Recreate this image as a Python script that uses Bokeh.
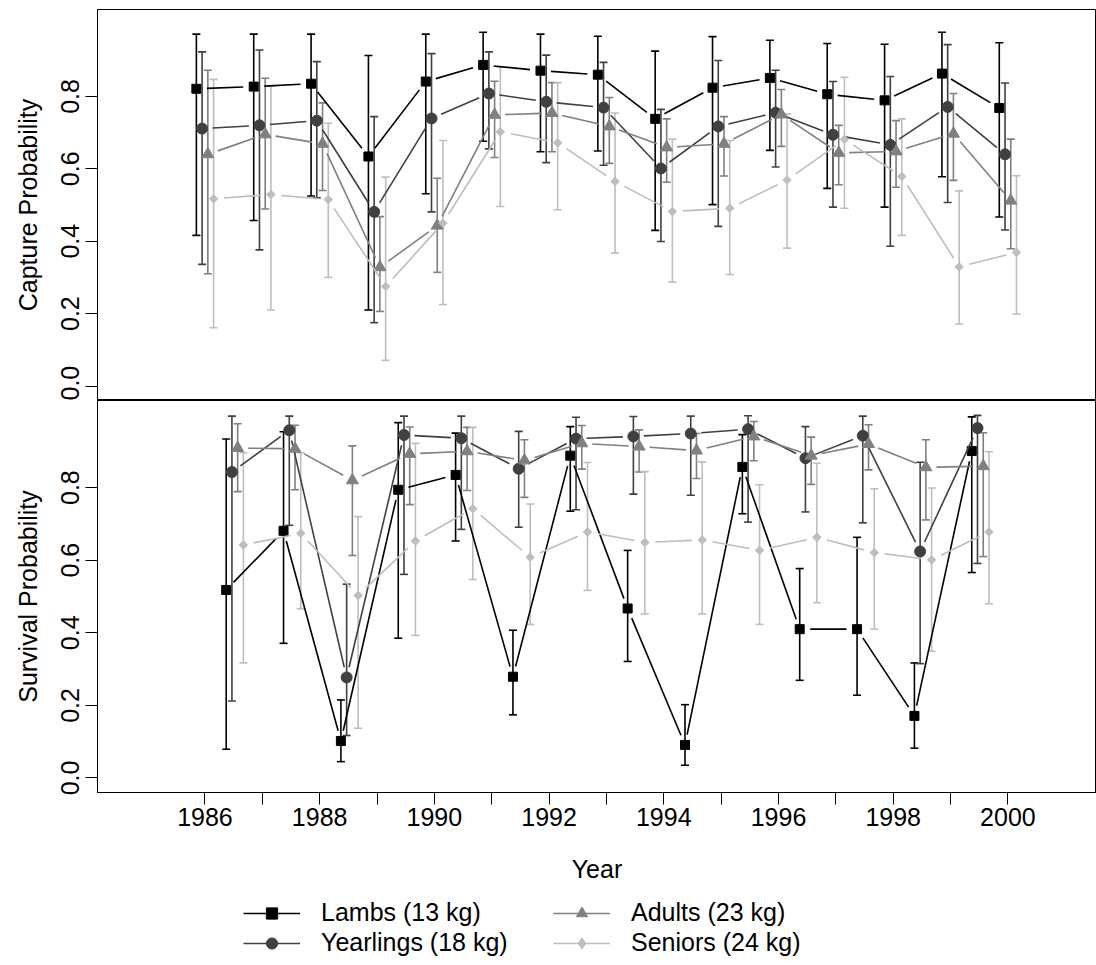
import math
from bokeh.plotting import figure
from bokeh.models import (Range1d, FixedTicker, PrintfTickFormatter, ColumnDataSource,
                          Whisker, TeeHead, Legend, LegendItem)
from bokeh.layouts import column
from bokeh.embed import file_html
from bokeh.resources import INLINE

# ---------------- data ----------------
years_cap = list(range(1986, 2001))
years_surv = list(range(1986, 2000))
series_names = ["Lambs (13 kg)", "Yearlings (18 kg)", "Adults (23 kg)", "Seniors (24 kg)"]

cap_lambs    = [0.821, 0.827, 0.835, 0.634, 0.841, 0.887, 0.871, 0.860, 0.738, 0.824, 0.851, 0.806, 0.789, 0.863, 0.768]
cap_lambs_lo = [0.416, 0.457, 0.525, 0.210, 0.531, 0.676, 0.647, 0.649, 0.430, 0.501, 0.651, 0.546, 0.494, 0.578, 0.467]
cap_lambs_hi = [0.972, 0.972, 0.972, 0.913, 0.972, 0.977, 0.972, 0.966, 0.925, 0.965, 0.955, 0.946, 0.944, 0.977, 0.948]

cap_year    = [0.711, 0.720, 0.733, 0.481, 0.739, 0.808, 0.785, 0.769, 0.601, 0.717, 0.755, 0.694, 0.666, 0.771, 0.640]
cap_year_lo = [0.336, 0.376, 0.520, 0.175, 0.481, 0.655, 0.617, 0.610, 0.399, 0.441, 0.605, 0.494, 0.386, 0.507, 0.431]
cap_year_hi = [0.923, 0.928, 0.896, 0.744, 0.918, 0.923, 0.914, 0.894, 0.764, 0.899, 0.872, 0.841, 0.855, 0.943, 0.837]

cap_adult    = [0.640, 0.695, 0.669, 0.328, 0.443, 0.749, 0.754, 0.717, 0.659, 0.669, 0.750, 0.644, 0.648, 0.697, 0.512]
cap_adult_lo = [0.310, 0.489, 0.540, 0.206, 0.314, 0.631, 0.647, 0.615, 0.563, 0.580, 0.662, 0.556, 0.549, 0.568, 0.379]
cap_adult_hi = [0.872, 0.850, 0.782, 0.468, 0.574, 0.842, 0.838, 0.797, 0.738, 0.744, 0.819, 0.720, 0.733, 0.808, 0.682]

cap_senior    = [0.517, 0.529, 0.515, 0.275, 0.450, 0.702, 0.672, 0.565, 0.482, 0.491, 0.569, 0.681, 0.579, 0.329, 0.369]
cap_senior_lo = [0.161, 0.210, 0.300, 0.071, 0.225, 0.496, 0.487, 0.367, 0.287, 0.308, 0.381, 0.491, 0.416, 0.171, 0.199]
cap_senior_hi = [0.847, 0.828, 0.726, 0.577, 0.678, 0.881, 0.838, 0.754, 0.682, 0.678, 0.752, 0.853, 0.738, 0.539, 0.581]

surv_lambs    = [0.518, 0.681, 0.102, 0.794, 0.835, 0.279, 0.888, 0.467, 0.091, 0.857, 0.410, 0.410, 0.171, 0.901]
surv_lambs_lo = [0.079, 0.371, 0.045, 0.385, 0.653, 0.174, 0.735, 0.321, 0.035, 0.728, 0.269, 0.228, 0.082, 0.566]
surv_lambs_hi = [0.934, 0.954, 0.215, 0.979, 0.950, 0.407, 0.968, 0.627, 0.202, 0.946, 0.577, 0.663, 0.317, 0.995]

surv_year    = [0.843, 0.958, 0.277, 0.945, 0.936, 0.852, 0.935, 0.941, 0.949, 0.961, 0.881, 0.943, 0.624, 0.964]
surv_year_lo = [0.212, 0.696, 0.117, 0.561, 0.685, 0.691, 0.739, 0.782, 0.779, 0.705, 0.733, 0.703, 0.315, 0.591]
surv_year_hi = [0.997, 0.997, 0.534, 0.997, 0.997, 0.955, 0.994, 0.996, 0.997, 0.998, 0.968, 0.997, 0.870, 0.999]

surv_adult    = [0.909, 0.907, 0.820, 0.893, 0.900, 0.875, 0.922, 0.913, 0.902, 0.941, 0.888, 0.920, 0.856, 0.859]
surv_adult_lo = [0.789, 0.794, 0.613, 0.753, 0.792, 0.773, 0.851, 0.843, 0.825, 0.874, 0.809, 0.849, 0.711, 0.610]
surv_adult_hi = [0.976, 0.972, 0.915, 0.967, 0.966, 0.932, 0.971, 0.959, 0.949, 0.982, 0.939, 0.973, 0.932, 0.951]

surv_senior    = [0.642, 0.674, 0.503, 0.653, 0.742, 0.608, 0.678, 0.649, 0.656, 0.627, 0.663, 0.621, 0.601, 0.678]
surv_senior_lo = [0.317, 0.466, 0.137, 0.393, 0.547, 0.423, 0.517, 0.452, 0.452, 0.423, 0.483, 0.410, 0.349, 0.480]
surv_senior_hi = [0.896, 0.896, 0.720, 0.922, 0.966, 0.755, 0.869, 0.844, 0.871, 0.808, 0.867, 0.797, 0.799, 0.899]

x_ticks = list(range(1986, 2001))
y_ticks = [0.0, 0.2, 0.4, 0.6, 0.8]

# ---------------- style / layout ----------------
FONT = "Liberation Sans"
FS = "25px"
FRAME_W = 999
FRAME_H_TOP = 391
FRAME_H_BOT = 392
X0, X1 = 1984.126, 2001.545
Y0, Y1 = -0.04, 1.04
cap_offsets = [-0.15, -0.05, 0.05, 0.15]
surv_offsets = [0.37, 0.47, 0.57, 0.67]
colors = ["#000000", "#404040", "#808080", "#bebebe"]
markers = ["square", "circle", "triangle", "square"]
msizes = [9, 11, 12, 6]
mangles = [0, 0, 0, math.pi / 4]
leg_markers = ["square", "circle", "triangle", "diamond"]
leg_sizes = [9, 11, 12, 10]
GAP = 10.5
LW = 1.6

cap_data = [(cap_lambs, cap_lambs_lo, cap_lambs_hi), (cap_year, cap_year_lo, cap_year_hi),
            (cap_adult, cap_adult_lo, cap_adult_hi), (cap_senior, cap_senior_lo, cap_senior_hi)]
surv_data = [(surv_lambs, surv_lambs_lo, surv_lambs_hi), (surv_year, surv_year_lo, surv_year_hi),
             (surv_adult, surv_adult_lo, surv_adult_hi), (surv_senior, surv_senior_lo, surv_senior_hi)]


def gapped(xs, ys, frame_h):
    px = FRAME_W / (X1 - X0)
    py = frame_h / (Y1 - Y0)
    out = dict(x0=[], y0=[], x1=[], y1=[])
    for i in range(len(xs) - 1):
        dx = (xs[i + 1] - xs[i]) * px
        dy = (ys[i + 1] - ys[i]) * py
        L = math.hypot(dx, dy)
        if L <= 2 * GAP:
            continue
        f = GAP / L
        out["x0"].append(xs[i] + (xs[i + 1] - xs[i]) * f)
        out["y0"].append(ys[i] + (ys[i + 1] - ys[i]) * f)
        out["x1"].append(xs[i + 1] - (xs[i + 1] - xs[i]) * f)
        out["y1"].append(ys[i + 1] - (ys[i + 1] - ys[i]) * f)
    return out


def make_fig(frame_h, ylabel, bottom):
    p = figure(frame_width=FRAME_W, frame_height=frame_h,
               x_range=Range1d(X0, X1), y_range=Range1d(Y0, Y1),
               output_backend="svg", toolbar_location=None,
               min_border_left=97, min_border_right=0,
               min_border_top=(0 if bottom else 9), min_border_bottom=(100 if bottom else 0),
               x_axis_location=("below" if bottom else None))
    p.grid.visible = False
    p.outline_line_color = "black"
    p.outline_line_width = 1
    p.background_fill_color = "white"
    p.border_fill_color = "white"
    ya = p.yaxis[0]
    ya.ticker = FixedTicker(ticks=y_ticks)
    ya.formatter = PrintfTickFormatter(format="%.1f")
    ya.major_label_orientation = "vertical"
    ya.axis_label = ylabel
    for ax in p.axis:
        ax.axis_line_color = "black"
        ax.major_tick_line_color = "black"
        ax.major_tick_line_width = 1
        ax.major_tick_out = 12
        ax.major_tick_in = 0
        ax.minor_tick_line_color = None
        ax.major_label_text_font = FONT
        ax.major_label_text_font_size = FS
        ax.major_label_text_color = "black"
        ax.axis_label_text_font = FONT
        ax.axis_label_text_font_size = FS
        ax.axis_label_text_font_style = "normal"
        ax.axis_label_text_color = "black"
        ax.major_label_standoff = 3
    ya.major_label_standoff = 6
    ya.axis_label_standoff = 17
    if bottom:
        xa = p.xaxis[0]
        xa.ticker = FixedTicker(ticks=x_ticks)
        xa.major_label_overrides = {t: ("" if t % 2 else str(t)) for t in x_ticks}
        xa.axis_label = "Year"
        xa.axis_label_standoff = 26
    return p


def draw(p, years, offsets, data, frame_h):
    for k in range(4):
        est, lo, hi = data[k]
        xs = [y + offsets[k] for y in years]
        src = ColumnDataSource(dict(x=xs, y=est, lo=lo, hi=hi))
        w = Whisker(source=src, base="x", upper="hi", lower="lo", dimension="height",
                    line_color=colors[k], line_width=LW,
                    upper_head=TeeHead(size=8, line_color=colors[k], line_width=LW),
                    lower_head=TeeHead(size=8, line_color=colors[k], line_width=LW))
        p.add_layout(w)
        seg = ColumnDataSource(gapped(xs, est, frame_h))
        p.segment(x0="x0", y0="y0", x1="x1", y1="y1", source=seg,
                  line_color=colors[k], line_width=LW)
        p.scatter(x="x", y="y", source=src, marker=markers[k], size=msizes[k],
                  angle=mangles[k], fill_color=colors[k], line_color=colors[k])


top = make_fig(FRAME_H_TOP, "Capture Probability", False)
draw(top, years_cap, cap_offsets, cap_data, FRAME_H_TOP)

bot = make_fig(FRAME_H_BOT, "Survival Probability", True)
draw(bot, years_surv, surv_offsets, surv_data, FRAME_H_BOT)

# ---------------- legend strip ----------------
LEG_H = 73
leg = figure(frame_width=FRAME_W, frame_height=LEG_H, x_range=Range1d(0, 1), y_range=Range1d(0, 1),
             output_backend="svg", toolbar_location=None,
             min_border_left=97, min_border_right=0, min_border_top=0, min_border_bottom=0,
             x_axis_location=None, y_axis_location=None)
leg.grid.visible = False
leg.outline_line_color = None
leg_rends = []
for k in range(4):
    # one key entry per series, parked outside the visible range (only the legend shows it)
    key = ColumnDataSource(dict(x0=[-5], y0=[-5], x1=[-4], y1=[-5], x=[-5], y=[-5]))
    r1 = leg.segment(x0="x0", y0="y0", x1="x1", y1="y1", source=key, line_color=colors[k], line_width=LW)
    r2 = leg.scatter(x="x", y="y", source=key, marker=leg_markers[k], size=leg_sizes[k],
                     fill_color=colors[k], line_color=colors[k])
    leg_rends.append([r1, r2])


def mk_legend(idx, loc):
    items = [LegendItem(label=series_names[i], renderers=leg_rends[i], index=0) for i in idx]
    return Legend(items=items, location=loc, orientation="vertical",
                  glyph_width=57, glyph_height=28, label_standoff=21, spacing=1,
                  padding=0, margin=0, border_line_color=None, background_fill_alpha=0,
                  label_text_font=FONT, label_text_font_size=FS, label_text_color="black",
                  label_height=28)


leg.add_layout(mk_legend([0, 1], (146, 8)))
leg.add_layout(mk_legend([2, 3], (456, 8)))

layout = column(top, bot, leg, spacing=0)
open("out.html", "w").write(file_html(layout, INLINE))
